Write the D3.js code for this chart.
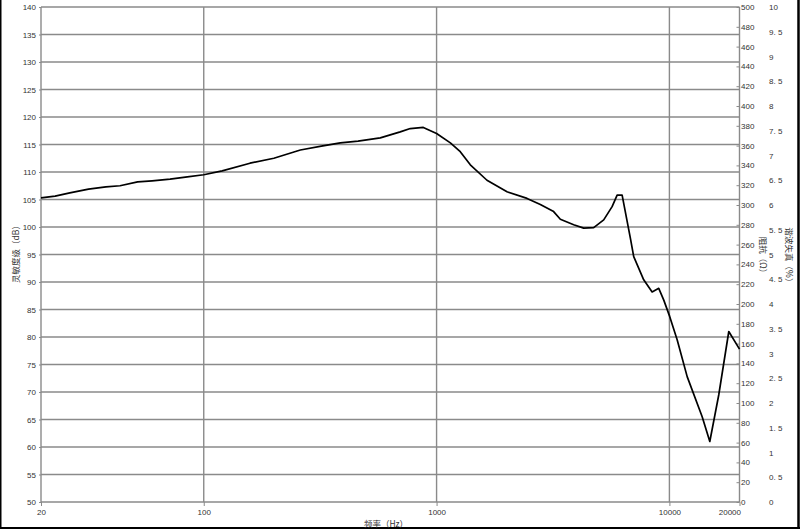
<!DOCTYPE html>
<html><head><meta charset="utf-8">
<script src="https://cdn.jsdelivr.net/npm/d3@7"></script>
<style>
html,body{margin:0;padding:0;background:#fff;}
svg{display:block;}
.tk text{font-family:'Liberation Sans Narrow','Liberation Sans',Arial,sans-serif;font-size:8px;fill:#333;}
.ttl{font-family:'Noto Sans CJK SC','Liberation Sans',sans-serif;font-size:8.5px;fill:#333;}
</style></head>
<body>
<script>
// ---- data ----
const freqs = [20, 23, 26.6, 32, 38, 43.7, 52, 60, 71.7, 85, 100, 120, 158, 200, 260, 320, 386, 460, 573, 698, 771, 877, 1000, 1146, 1264, 1396, 1646, 2007, 2447, 2790, 3182, 3401, 3880, 4284, 4730, 5222, 5674, 5963, 6265, 6803, 7027, 7756, 8429, 9000, 9458, 10034, 10796, 11920, 13826, 14910, 16295, 17990, 20000];
const spl =   [105.3, 105.6, 106.2, 106.9, 107.3, 107.5, 108.2, 108.4, 108.7, 109.1, 109.5, 110.2, 111.6, 112.5, 114.0, 114.7, 115.3, 115.6, 116.2, 117.3, 117.9, 118.1, 117.0, 115.3, 113.7, 111.3, 108.5, 106.4, 105.2, 104.1, 102.8, 101.4, 100.4, 99.8, 99.9, 101.3, 103.7, 105.8, 105.8, 97.9, 94.6, 90.4, 88.2, 88.85, 86.7, 83.7, 79.5, 72.8, 65.5, 61.0, 69.5, 81.0, 77.8];
const splTicks = d3.range(50, 141, 5);
const ohmTicks = d3.range(0, 501, 20);
const thdTicks = d3.range(0, 10.001, 0.5);
const freqTicks = [20, 100, 1000, 10000, 20000];
const freqGrid = [100, 1000, 10000];

const W = 800, H = 531;
const L = 41, R = 739.5, T = 7, B = 502;

const svg = d3.select("body").append("svg").attr("width", W).attr("height", H);

// outer frame
svg.append("line").attr("x1",0.75).attr("x2",0.75).attr("y1",0).attr("y2",529).attr("stroke","#000").attr("stroke-width",1.5);
svg.append("line").attr("x1",0).attr("x2",800).attr("y1",528).attr("y2",528).attr("stroke","#000").attr("stroke-width",2);
svg.append("line").attr("x1",798.5).attr("x2",798.5).attr("y1",0).attr("y2",529).attr("stroke","#000").attr("stroke-width",2.5);

const x = d3.scaleLog().domain([20, 20000]).range([L, R]);
const y = d3.scaleLinear().domain([50, 140]).range([B, T]);
const yOhm = d3.scaleLinear().domain([0, 500]).range([B, T]);
const yThd = d3.scaleLinear().domain([0, 10]).range([B, T]);

// grid
const grid = svg.append("g").attr("stroke", "#8a8a8a").attr("stroke-width", 1.4);
grid.selectAll(".h").data(splTicks).join("line")
  .attr("x1", L).attr("x2", R).attr("y1", d => y(d)).attr("y2", d => y(d));
grid.selectAll(".v").data(freqGrid).join("line")
  .attr("x1", d => x(d)).attr("x2", d => x(d)).attr("y1", T).attr("y2", B);
grid.append("line").attr("x1", L).attr("x2", L).attr("y1", T).attr("y2", B);
grid.append("line").attr("x1", R).attr("x2", R).attr("y1", T).attr("y2", B);

// left axis
const gl = svg.append("g").attr("class","tk").attr("transform",`translate(${L},0)`)
  .call(d3.axisLeft(y).tickValues(splTicks).tickSize(2).tickPadding(3).tickFormat(d3.format("d")));
gl.select(".domain").remove();
gl.selectAll("line").attr("stroke","#8a8a8a");

// bottom axis
const gb = svg.append("g").attr("class","tk").attr("transform",`translate(0,${B})`)
  .call(d3.axisBottom(x).tickValues(freqTicks).tickSize(4).tickPadding(3).tickFormat(d3.format("d")));
gb.select(".domain").remove();
gb.selectAll("line").attr("stroke","#8a8a8a");
gb.selectAll("text").filter(d => d === 20000).attr("text-anchor","end").attr("dx", 1);

// right ohm axis
const gr = svg.append("g").attr("class","tk").attr("transform",`translate(${R},0)`)
  .call(d3.axisRight(yOhm).tickValues(ohmTicks).tickSizeInner(-3).tickSizeOuter(0).tickPadding(1.5).tickFormat(d3.format("d")));
gr.select(".domain").remove();
gr.selectAll("line").attr("stroke","#8a8a8a");

// right THD axis
const gt = svg.append("g").attr("class","tk").attr("transform",`translate(${R},0)`)
  .call(d3.axisRight(yThd).tickValues(thdTicks).tickSize(0).tickPadding(29.5)
    .tickFormat(d => Number.isInteger(d) ? String(d) : String(d).replace(".", ". ")));
gt.select(".domain").remove();

// curve
const line = d3.line().x((d, i) => x(freqs[i])).y(d => y(d));
svg.append("path").datum(spl).attr("d", line).attr("fill","none")
  .attr("stroke","#000").attr("stroke-width",1.7).attr("stroke-linejoin","round");

// titles
svg.append("text").attr("class","ttl").attr("x", 386).attr("y", 527).attr("text-anchor","middle").text("频率（Hz）");
svg.append("text").attr("class","ttl").attr("text-anchor","middle")
  .attr("transform","translate(19,252) rotate(-90)").text("灵敏度级（dB）");
svg.append("text").attr("class","ttl").attr("text-anchor","middle")
  .attr("transform","translate(760,257) rotate(90)").text("阻抗（Ω）");
svg.append("text").attr("class","ttl").attr("text-anchor","middle")
  .attr("transform","translate(786,257) rotate(90)").text("谐波失真（%）");
</script>
</body></html>
